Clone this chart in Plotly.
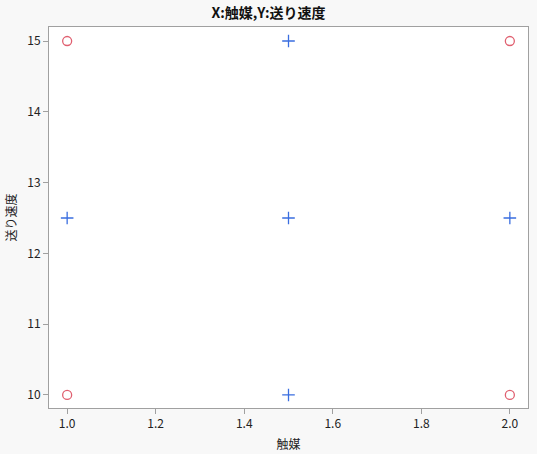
import plotly.graph_objects as go

circle_x = [1.0, 1.0, 2.0, 2.0]
circle_y = [10, 15, 10, 15]
cross_x = [1.0, 1.5, 2.0, 1.5, 1.5]
cross_y = [12.5, 12.5, 12.5, 10, 15]

x_ticks = [1.0, 1.2, 1.4, 1.6, 1.8, 2.0]
y_ticks = [10, 11, 12, 13, 14, 15]

font = "Noto Sans CJK JP, Noto Sans, sans-serif"

fig = go.Figure()
fig.add_trace(go.Scatter(
    x=circle_x, y=circle_y, mode="markers",
    marker=dict(symbol="circle-open", size=9, color="#e06070", line=dict(width=1.3)),
    showlegend=False))
fig.add_trace(go.Scatter(
    x=cross_x, y=cross_y, mode="markers",
    marker=dict(symbol="cross-thin-open", size=9, color="#3a6ee0", line=dict(width=1.3, color="#3a6ee0")),
    showlegend=False))

axis_common = dict(
    showgrid=False, zeroline=False, showline=True, mirror=True, automargin=False,
    linecolor="#a0a0a0", linewidth=1, ticks="outside", ticklen=5,
    tickcolor="#a0a0a0", tickfont=dict(size=12, color="#222", family=font),
)

fig.update_layout(
    width=537, height=454,
    margin=dict(l=49, r=9, t=27, b=46),
    paper_bgcolor="#f8f8f8", plot_bgcolor="white",
    font=dict(family=font, color="#222"),
    title=dict(text="<b>X:触媒,Y:送り速度</b>", x=0.5, xanchor="center",
               y=0.972, yanchor="middle", font=dict(size=14, family=font, color="#111")),
    xaxis=dict(range=[0.959, 2.041], tickvals=x_ticks, ticktext=[f"{v:.1f}" for v in x_ticks],
               title=dict(text="触媒", font=dict(size=12, family=font), standoff=10), **axis_common),
    yaxis=dict(range=[9.816, 15.198], tickvals=y_ticks, ticktext=[str(v) for v in y_ticks],
               title=dict(text="送り速度", font=dict(size=12, family=font), standoff=8), **axis_common),
)

fig.write_html("out.html", config={"displayModeBar": False},
               post_script="document.body.style.margin='0';document.body.style.overflow='hidden';")
